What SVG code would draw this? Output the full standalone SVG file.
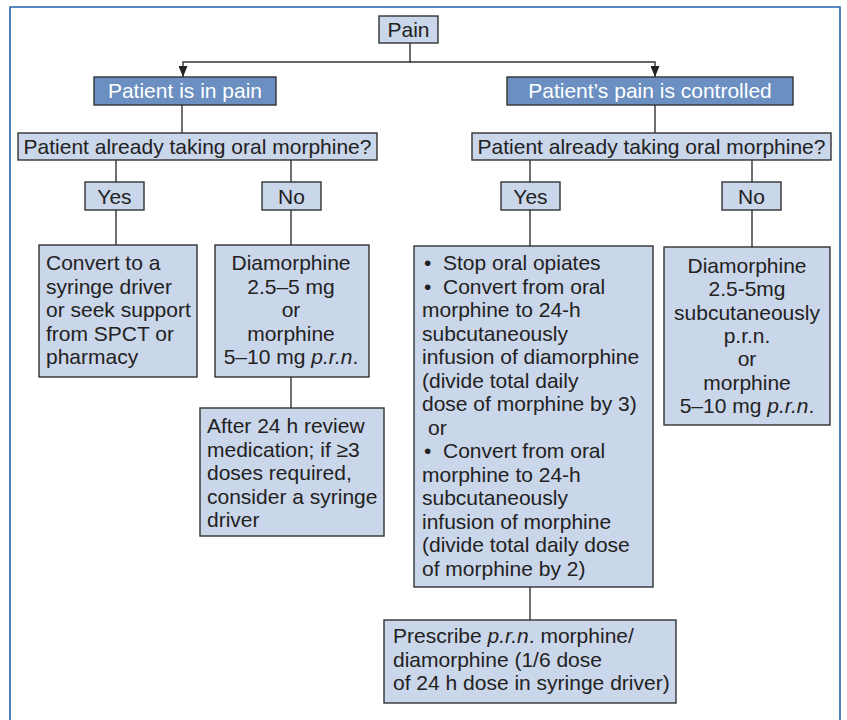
<svg xmlns="http://www.w3.org/2000/svg" width="847" height="720" viewBox="0 0 847 720">
<defs>
<style>
.box{fill:#cad6e9;stroke:#333;stroke-width:1.4}
.hdr{fill:#6a8fc0;stroke:#333;stroke-width:1.4}
text{font-family:"Liberation Sans",Arial,sans-serif;font-size:21px;fill:#222}
.w{fill:#fff}
.c{text-anchor:middle}
.con{fill:none;stroke:#333;stroke-width:1.4}
</style>
<marker id="down" markerWidth="9" markerHeight="11" refX="4.5" refY="11" orient="0" markerUnits="userSpaceOnUse" viewBox="0 0 9 11">
<path d="M0,0 L9,0 L4.5,11 Z" fill="#222"/>
</marker>
</defs>
<rect width="847" height="720" fill="#fff"/>
<path d="M10,725 L10,7 L840,7 L840,725" fill="none" stroke="#2563a8" stroke-width="1.6"/>

<g id="connectors">
<path class="con" d="M410,43 V62 H183 V77" marker-end="url(#down)"/>
<path class="con" d="M410,62 H655 V77" marker-end="url(#down)"/>
<path class="con" d="M182,105 V133"/>
<path class="con" d="M116,160 V182"/>
<path class="con" d="M291,160 V182"/>
<path class="con" d="M116,210 V245"/>
<path class="con" d="M291,210 V245"/>
<path class="con" d="M291,377 V408"/>
<path class="con" d="M655,105 V133"/>
<path class="con" d="M530,160 V182"/>
<path class="con" d="M752,160 V182"/>
<path class="con" d="M530,210 V246"/>
<path class="con" d="M752,210 V247"/>
<path class="con" d="M530,587 V620"/>
</g>

<g id="pain">
<rect class="box" x="379" y="16" width="59" height="27"/>
<text class="c" x="408.5" y="37">Pain</text>
</g>

<g id="in-pain">
<rect class="hdr" x="94" y="77" width="182" height="28"/>
<text class="c w" x="185" y="98">Patient is in pain</text>
</g>

<g id="controlled">
<rect class="hdr" x="507" y="77" width="286" height="28"/>
<text class="c w" x="650" y="98">Patient’s pain is controlled</text>
</g>

<g id="q-left">
<rect class="box" x="18" y="133" width="359" height="27"/>
<text class="c" x="197.5" y="154">Patient already taking oral morphine?</text>
</g>

<g id="q-right">
<rect class="box" x="472" y="133" width="359" height="27"/>
<text class="c" x="651.5" y="154">Patient already taking oral morphine?</text>
</g>

<g id="yes-left">
<rect class="box" x="85" y="182" width="59" height="28"/>
<text class="c" x="114.5" y="204">Yes</text>
</g>

<g id="no-left">
<rect class="box" x="262" y="182" width="59" height="28"/>
<text class="c" x="291.5" y="204">No</text>
</g>

<g id="yes-right">
<rect class="box" x="501" y="182" width="59" height="28"/>
<text class="c" x="530.5" y="204">Yes</text>
</g>

<g id="no-right">
<rect class="box" x="722" y="182" width="59" height="28"/>
<text class="c" x="751.5" y="204">No</text>
</g>

<g id="convert">
<rect class="box" x="39" y="245" width="158" height="132"/>
<text x="46" y="270">Convert to a</text>
<text x="46" y="293.5">syringe driver</text>
<text x="46" y="317">or seek support</text>
<text x="46" y="340.5">from SPCT or</text>
<text x="46" y="364">pharmacy</text>
</g>

<g id="diamorphine-left">
<rect class="box" x="215" y="245" width="154" height="132"/>
<text class="c" x="291" y="270">Diamorphine</text>
<text class="c" x="291" y="293.5">2.5–5 mg</text>
<text class="c" x="291" y="317">or</text>
<text class="c" x="291" y="340.5">morphine</text>
<text class="c" x="291" y="364">5–10 mg <tspan font-style="italic">p.r.n</tspan>.</text>
</g>

<g id="review">
<rect class="box" x="200" y="408" width="184" height="128"/>
<text x="207" y="433">After 24 h review</text>
<text x="207" y="456.5">medication; if ≥3</text>
<text x="207" y="480">doses required,</text>
<text x="207" y="503.5">consider a syringe</text>
<text x="207" y="527">driver</text>
</g>

<g id="convert-right">
<rect class="box" x="414" y="246" width="239" height="341"/>
<text x="424" y="270">•<tspan x="443">Stop oral opiates</tspan></text>
<text x="424" y="293.5">•<tspan x="443">Convert from oral</tspan></text>
<text x="422" y="317">morphine to 24-h</text>
<text x="422" y="340.5">subcutaneously</text>
<text x="422" y="364">infusion of diamorphine</text>
<text x="422" y="387.5">(divide total daily</text>
<text x="422" y="411">dose of morphine by 3)</text>
<text x="428" y="434.5">or</text>
<text x="424" y="458">•<tspan x="443">Convert from oral</tspan></text>
<text x="422" y="481.5">morphine to 24-h</text>
<text x="422" y="505">subcutaneously</text>
<text x="422" y="528.5">infusion of morphine</text>
<text x="422" y="552">(divide total daily dose</text>
<text x="422" y="575.5">of morphine by 2)</text>
</g>

<g id="diamorphine-right">
<rect class="box" x="664" y="247" width="166" height="178"/>
<text class="c" x="747" y="273">Diamorphine</text>
<text class="c" x="747" y="296.3">2.5-5mg</text>
<text class="c" x="747" y="319.6">subcutaneously</text>
<text class="c" x="747" y="343">p.r.n.</text>
<text class="c" x="747" y="366.3">or</text>
<text class="c" x="747" y="389.6">morphine</text>
<text class="c" x="747" y="413">5–10 mg <tspan font-style="italic">p.r.n</tspan>.</text>
</g>

<g id="prescribe">
<rect class="box" x="384" y="620" width="292" height="83"/>
<text x="393" y="643">Prescribe <tspan font-style="italic">p.r.n</tspan>. morphine/</text>
<text x="393" y="666.5">diamorphine (1/6 dose</text>
<text x="393" y="690">of 24 h dose in syringe driver)</text>
</g>
</svg>
